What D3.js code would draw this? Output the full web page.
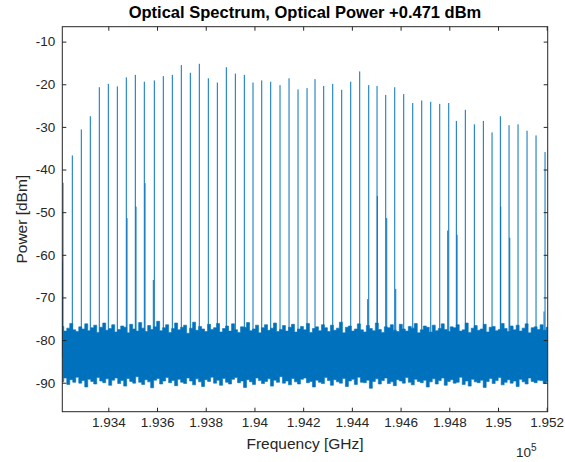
<!DOCTYPE html>
<html>
<head>
<meta charset="utf-8">
<script src="https://cdn.jsdelivr.net/npm/d3@7"></script>
<style>
  html, body { margin: 0; padding: 0; background: #fff; }
  svg { display: block; }
  text { font-family: "Liberation Sans", Arial, Helvetica, sans-serif; }
</style>
</head>
<body>
<svg id="chart" width="565" height="462"></svg>
<script>
// Comb line frequencies (GHz) and peak powers (dBm)
const combFreqGHz = [
  193214.0, 193252.2, 193289.1, 193326.1, 193363.0, 193400.0, 193437.0, 193473.9, 193510.9, 193547.8,
  193588.9, 193625.8, 193662.8, 193699.7, 193736.7, 193773.6, 193810.6, 193847.6, 193884.5, 193921.5,
  193958.4, 193994.1, 194029.9, 194066.8, 194105.0, 194142.0, 194178.9, 194215.9, 194248.7, 194284.4,
  194321.4, 194358.3, 194395.3, 194432.2, 194469.2, 194503.3, 194539.0, 194576.0, 194612.9, 194649.9,
  194686.8, 194723.8, 194760.7, 194797.7, 194828.9, 194865.8, 194902.8, 194939.8, 194975.5, 195009.6,
  195045.3, 195082.2, 195119.2, 195156.1, 195193.1
];
const combPowerDBm = [
  -43.1, -36.7, -30.6, -27.5, -20.7, -19.9, -20.5, -18.4, -17.8, -19.4,
  -19.1, -18.1, -17.8, -15.5, -17.3, -15.2, -18.6, -19.6, -16.0, -17.5,
  -17.8, -19.6, -19.1, -19.4, -20.2, -18.6, -21.2, -20.9, -18.8, -20.4,
  -19.9, -21.3, -19.4, -17.0, -20.2, -20.4, -22.5, -20.7, -22.3, -24.4,
  -23.8, -24.1, -24.6, -24.4, -28.6, -26.0, -29.4, -28.6, -31.3, -27.5,
  -29.6, -29.4, -30.9, -32.0, -35.9
];

// Secondary spurs sitting right next to some comb lines
const spurFreqGHz = [
  193211.5, 193476.8, 193513.7, 193550.7, 193584.8, 194465.1, 194504.5,
  194543.1, 194580.1, 194793.6, 194831.8, 195011.2, 195048.2, 195189.0
];
const spurPowerDBm = [
  -61.6, -51.4, -48.7, -43.2, -65.9, -70.4, -46.2,
  -51.4, -68.0, -54.3, -55.3, -48.7, -56.0, -73.3
];

// Noise floor envelope, sampled on a regular frequency grid
const noiseStartGHz = 193211.0;
const noiseStepGHz = 12.3;
const noiseUpperDBm = [
  -76.8,-77.9,-77.2,-76.1,-77.6,-78.0,-76.9,-77.4,-76.2,-77.8,
  -77.1,-76.5,-78.2,-77.0,-76.0,-77.7,-77.3,-76.4,-78.1,-77.5,
  -76.7,-77.0,-78.3,-76.3,-77.4,-77.9,-75.9,-77.2,-78.0,-76.6,
  -77.5,-76.9,-75.6,-77.8,-77.1,-76.4,-78.2,-77.3,-76.0,-77.6,
  -77.0,-76.5,-78.4,-77.2,-75.8,-77.7,-76.8,-77.4,-78.0,-76.3,
  -77.5,-77.1,-76.1,-78.1,-77.3,-76.7,-77.9,-76.2,-77.6,-78.2,
  -76.9,-77.0,-75.9,-77.8,-77.4,-76.5,-78.3,-77.1,-76.4,-77.7,
  -77.2,-76.0,-78.0,-77.5,-76.6,-77.9,-77.0,-76.3,-78.1,-77.4,
  -76.8,-77.6,-76.1,-78.2,-77.3,-76.9,-77.8,-76.4,-77.1,-78.0,
  -76.5,-77.7,-77.2,-75.8,-78.3,-77.0,-76.7,-77.9,-77.4,-76.2,
  -77.6,-78.1,-76.6,-77.3,-77.8,-76.0,-77.5,-78.2,-76.9,-77.1,
  -76.4,-77.7,-78.0,-76.3,-77.4,-77.9,-76.8,-77.2,-76.1,-78.3,
  -77.6,-76.7,-77.0,-78.1,-76.5,-77.8,-77.3,-76.2,-77.5,-78.0,
  -76.9,-77.1,-76.4,-77.9,-77.6,-76.0,-78.2,-77.2,-76.6,-77.7,
  -77.4,-76.3,-78.1,-77.0,-76.8,-77.8,-77.5,-76.1,-77.3,-78.0,
  -76.7,-77.6,-76.5,-77.9,-77.2,-76.2,-78.3,-77.1,-76.9,-77.5,
  -76.4,-77.7,-77.0
];
const noiseLowerDBm = [
  -89.8,-88.9,-90.4,-89.3,-89.9,-88.7,-90.1,-89.5,-91.0,-89.2,
  -89.7,-90.3,-88.8,-89.6,-90.0,-89.1,-90.6,-89.4,-88.9,-90.2,
  -89.5,-90.8,-89.0,-89.7,-90.1,-88.6,-89.9,-90.4,-89.3,-89.8,
  -91.2,-89.4,-89.0,-90.3,-89.6,-88.8,-90.0,-89.5,-90.7,-89.2,
  -89.9,-90.2,-88.9,-89.6,-90.5,-89.1,-89.8,-90.9,-89.3,-89.7,
  -88.7,-90.1,-89.4,-90.6,-89.0,-89.9,-90.3,-89.2,-88.8,-90.0,
  -89.6,-91.1,-89.3,-89.8,-90.4,-88.9,-89.5,-90.2,-89.7,-89.1,
  -90.8,-89.4,-89.9,-88.6,-90.1,-89.6,-90.5,-89.0,-89.8,-90.3,
  -89.2,-88.9,-90.0,-89.7,-91.0,-89.4,-89.9,-90.2,-88.8,-89.5,
  -90.6,-89.3,-89.8,-90.1,-89.0,-90.9,-89.6,-89.2,-90.4,-88.7,
  -89.9,-90.0,-89.4,-91.3,-89.7,-89.1,-90.3,-89.5,-88.9,-90.2,
  -89.8,-90.7,-89.3,-89.6,-90.1,-88.8,-89.9,-90.5,-89.2,-89.7,
  -90.0,-89.4,-91.0,-89.8,-89.1,-90.3,-89.5,-88.9,-90.6,-89.7,
  -89.3,-90.1,-89.9,-88.7,-90.4,-89.6,-90.8,-89.2,-89.8,-90.0,
  -89.4,-91.1,-89.7,-89.0,-90.2,-89.5,-88.8,-90.5,-89.9,-89.3,
  -90.1,-89.6,-90.9,-89.2,-89.8,-90.3,-88.9,-89.7,-90.0,-89.4,
  -89.5,-90.2,-89.8
];

// Axis ticks and labels
const xTicksGHz = [193400, 193600, 193800, 194000, 194200, 194400, 194600, 194800, 195000, 195200];
const xTickLabels = ["1.934", "1.936", "1.938", "1.94", "1.942", "1.944", "1.946", "1.948", "1.95", "1.952"];
const yTicksDBm = [-90, -80, -70, -60, -50, -40, -30, -20, -10];
const yTickLabels = ["-90", "-80", "-70", "-60", "-50", "-40", "-30", "-20", "-10"];

const titleText = "Optical Spectrum, Optical Power +0.471 dBm";
const xLabelText = "Frequency [GHz]";
const yLabelText = "Power [dBm]";

// Layout
const plot = { left: 62.3, top: 26.7, right: 547.7, bottom: 411.7 };
const lineColor = "#0072BD";
const axisColor = "#262626";

const svg = d3.select("#chart");

const x = d3.scaleLinear().domain([193211.1, 195204.0]).range([plot.left, plot.right]);
const y = d3.scaleLinear().domain([-96.8, -6.5]).range([plot.bottom, plot.top]);

svg.append("defs").append("clipPath").attr("id", "plotClip")
  .append("rect")
  .attr("x", plot.left).attr("y", plot.top)
  .attr("width", plot.right - plot.left).attr("height", plot.bottom - plot.top);

const g = svg.append("g").attr("clip-path", "url(#plotClip)");

// Noise floor band
const noise = noiseUpperDBm.map((u, i) => ({
  f: noiseStartGHz + i * noiseStepGHz,
  hi: u,
  lo: noiseLowerDBm[i]
}));
g.append("path")
  .datum(noise)
  .attr("d", d3.area().x(d => x(d.f)).y0(d => y(d.lo)).y1(d => y(d.hi)).curve(d3.curveStep))
  .attr("fill", lineColor)
  .attr("stroke", lineColor)
  .attr("stroke-width", 0.6);

// Comb lines
g.selectAll("line.comb")
  .data(combFreqGHz.map((f, i) => ({ f, p: combPowerDBm[i] })))
  .join("line")
  .attr("class", "comb")
  .attr("x1", d => x(d.f)).attr("x2", d => x(d.f))
  .attr("y1", y(-84)).attr("y2", d => y(d.p))
  .attr("stroke", lineColor)
  .attr("stroke-width", 1);

// Spurs
g.selectAll("line.spur")
  .data(spurFreqGHz.map((f, i) => ({ f, p: spurPowerDBm[i] })))
  .join("line")
  .attr("class", "spur")
  .attr("x1", d => x(d.f)).attr("x2", d => x(d.f))
  .attr("y1", y(-84)).attr("y2", d => y(d.p))
  .attr("stroke", lineColor)
  .attr("stroke-width", 1);

// Axes
const fmtX = d => xTickLabels[xTicksGHz.indexOf(d)];
const fmtY = d => yTickLabels[yTicksDBm.indexOf(d)];
const tickLen = 4;

function styleAxis(sel) {
  sel.select(".domain").remove();
  sel.selectAll(".tick line").attr("stroke", axisColor).attr("stroke-width", 1);
  sel.selectAll(".tick text")
    .attr("fill", axisColor)
    .style("font-size", "13.5px");
}

svg.append("g")
  .attr("transform", `translate(0,${plot.bottom})`)
  .call(d3.axisBottom(x).tickValues(xTicksGHz).tickFormat(fmtX).tickSizeInner(-tickLen).tickSizeOuter(0).tickPadding(6))
  .call(styleAxis);

svg.append("g")
  .attr("transform", `translate(0,${plot.top})`)
  .call(d3.axisTop(x).tickValues(xTicksGHz).tickFormat("").tickSizeInner(-tickLen).tickSizeOuter(0))
  .call(styleAxis);

svg.append("g")
  .attr("transform", `translate(${plot.left},0)`)
  .call(d3.axisLeft(y).tickValues(yTicksDBm).tickFormat(fmtY).tickSizeInner(-tickLen).tickSizeOuter(0).tickPadding(7))
  .call(styleAxis);

svg.append("g")
  .attr("transform", `translate(${plot.right},0)`)
  .call(d3.axisRight(y).tickValues(yTicksDBm).tickFormat("").tickSizeInner(-tickLen).tickSizeOuter(0))
  .call(styleAxis);

// Box
svg.append("rect")
  .attr("x", plot.left).attr("y", plot.top)
  .attr("width", plot.right - plot.left).attr("height", plot.bottom - plot.top)
  .attr("fill", "none")
  .attr("stroke", axisColor)
  .attr("stroke-width", 1);

// Title and labels
const cx = (plot.left + plot.right) / 2;
svg.append("text")
  .attr("x", cx).attr("y", 18)
  .attr("text-anchor", "middle")
  .attr("font-weight", "bold")
  .attr("fill", "#000")
  .style("font-size", "16.5px")
  .text(titleText);

svg.append("text")
  .attr("x", cx).attr("y", 449)
  .attr("text-anchor", "middle")
  .attr("fill", axisColor)
  .style("font-size", "15.5px")
  .text(xLabelText);

svg.append("text")
  .attr("transform", `translate(27,${(plot.top + plot.bottom) / 2}) rotate(-90)`)
  .attr("text-anchor", "middle")
  .attr("fill", axisColor)
  .style("font-size", "15.5px")
  .text(yLabelText);

// Exponent of the frequency axis
const expText = svg.append("text")
  .attr("x", 516).attr("y", 457)
  .attr("fill", axisColor)
  .style("font-size", "13.5px");
expText.append("tspan").text("10");
expText.append("tspan").attr("dy", -6).style("font-size", "10px").text("5");
</script>
</body>
</html>
